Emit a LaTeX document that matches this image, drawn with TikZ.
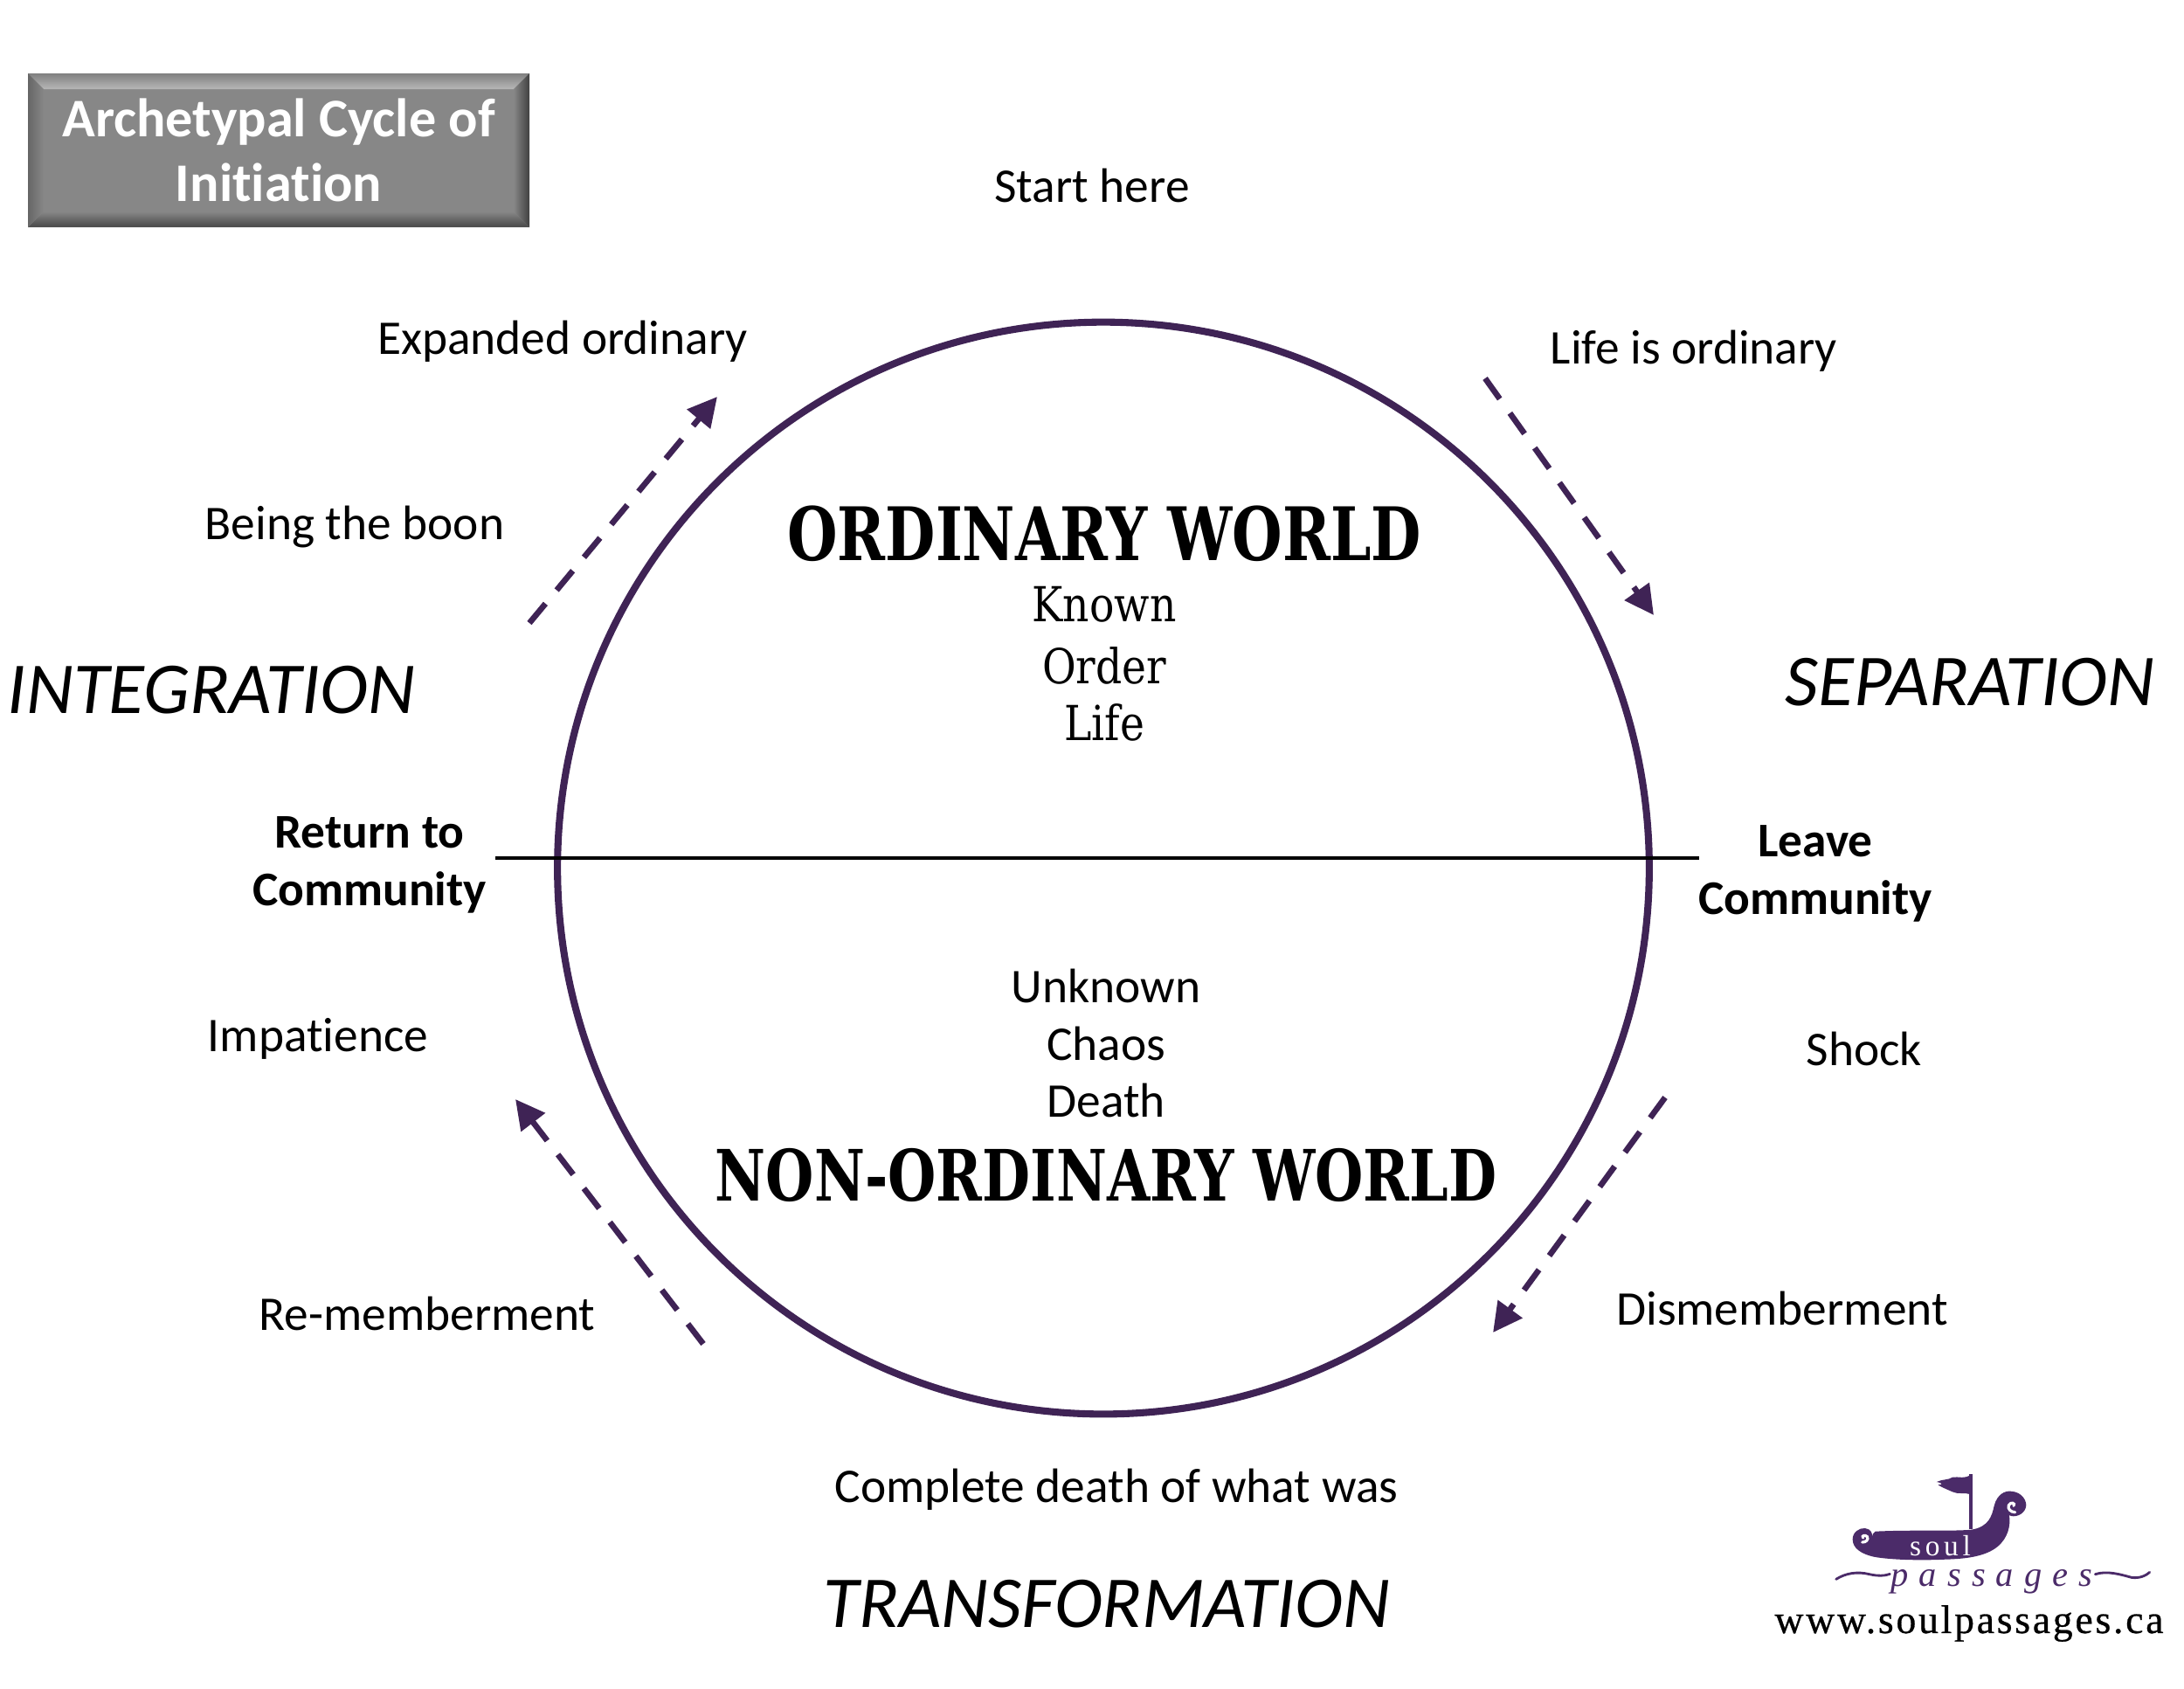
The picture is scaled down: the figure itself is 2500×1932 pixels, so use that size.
\documentclass[tikz,border=0pt]{standalone}
\usepackage{fontspec}
\usetikzlibrary{arrows.meta,calc}
\setmainfont[Ligatures=NoCommon]{Carlito}
\newfontfamily\headfont[FakeStretch=0.87]{DejaVu Serif Condensed}
\newfontfamily\subfont[FakeStretch=0.95]{DejaVu Serif Condensed}
\newfontfamily\urlfont[LetterSpace=6,FakeBold=0.6]{Liberation Serif}
\newfontfamily\soulfont[LetterSpace=14]{Liberation Serif}
\newfontfamily\passfont[LetterSpace=30]{Liberation Serif Italic}
\definecolor{figP}{RGB}{63,35,85}
\definecolor{logoP}{RGB}{75,43,105}
\tikzset{
  lbl/.style={inner sep=0pt,align=center,font=\fontsize{15.75}{20}\selectfont},
  boldlbl/.style={inner sep=0pt,align=center,font=\fontsize{15.75}{18.7}\selectfont\bfseries},
  phase/.style={inner sep=0pt,font=\fontsize{23.8}{30}\selectfont\itshape},
  world/.style={inner sep=0pt,font=\fontsize{24}{28}\selectfont\headfont\bfseries},
  sublbl/.style={inner sep=0pt,font=\fontsize{15.7}{20}\selectfont\subfont},
  flow/.style={line width=1.9pt,figP,dash pattern=on 8.2pt off 5.7pt,-{Triangle[length=9.5pt,width=9.5pt]}},
}
\begin{document}
\begin{tikzpicture}[x=0.01cm,y=-0.01cm]
\useasboundingbox (0,0) rectangle (2500,1932);
% title plate
\coordinate (pa) at (32,84);
\coordinate (pb) at (606,84);
\coordinate (pc) at (606,260);
\coordinate (pd) at (32,260);
\fill[black!47] (pa) rectangle (pc);
\shade[top color=black!50,bottom color=black!28] (pa)--(pb)--(588,102)--(50,102)--cycle;
\shade[left color=black!47,right color=black!75] (pb)--(pc)--(588,242)--(588,102)--cycle;
\shade[top color=black!47,bottom color=black!72] (pd)--(pc)--(588,242)--(50,242)--cycle;
\shade[left color=black!60,right color=black!47] (pa)--(pd)--(50,242)--(50,102)--cycle;
\node[inner sep=0pt,align=center,text=white,font=\fontsize{17.7}{21}\selectfont\bfseries] (title) at (319,172) {Archetypal Cycle of\\Initiation};
% the round
\node[circle,draw=figP,line width=2.3pt,minimum size=12.49cm,inner sep=0pt] (round) at (1263,993.5) {};
\coordinate (lineL) at (567,982);
\coordinate (lineR) at (1945,982);
\draw[line width=0.9pt,black] (lineL)--(lineR);
% labels outside
\node[lbl] (start) at (1250,212) {Start here};
\node[lbl] (expanded) at (644,391) {Expanded ordinary};
\node[lbl] (ordinary) at (1939,402) {Life is ordinary};
\node[lbl] (boon) at (406,603) {Being the boon};
\node[phase] (integration) at (242,790) {INTEGRATION};
\node[phase] (separation) at (2255,781) {SEPARATION};
\node[boldlbl] (return) at (423,990) {Return to\\Community};
\node[boldlbl] (leave) at (2078,1000) {Leave\\Community};
\node[lbl] (impatience) at (364,1189) {Impatience};
\node[lbl] (shock) at (2134,1200) {Shock};
\node[lbl] (remember) at (489,1503) {Re-memberment};
\node[lbl] (dismember) at (2040,1497) {Dismemberment};
\node[lbl] (complete) at (1278,1705) {Complete death of what was};
\node[phase] (transformation) at (1267,1836) {TRANSFORMATION};
% inside the round
\node[world] (oworld) at (1264,611) {ORDINARY WORLD};
\node[sublbl] (known) at (1264,692) {Known};
\node[sublbl] (order) at (1264,762) {Order};
\node[sublbl] (life) at (1264,827) {Life};
\node[lbl] (unknown) at (1266,1128) {Unknown};
\node[lbl] (chaos) at (1266,1194) {Chaos};
\node[lbl] (death) at (1266,1259) {Death};
\node[world,font=\fontsize{23.05}{28}\selectfont\headfont\bfseries] (nworld) at (1266,1345) {NON-ORDINARY WORLD};
% dashed arrows round the circle
\coordinate (a1) at (606,713); \coordinate (a2) at (821,454);
\coordinate (b1) at (1700,433); \coordinate (b2) at (1893,704);
\coordinate (c1) at (1906,1256); \coordinate (c2) at (1709,1525);
\coordinate (d1) at (805,1538); \coordinate (d2) at (590,1258);
\foreach \p in {a,b,c,d} \draw[flow] (\p1)--(\p2);
% boat
\begin{scope}[shift={(2000,1660)},scale=1/3]
\fill[logoP] (440,278) .. controls (560,272) and (700,278) .. (770,272)
  .. controls (830,262) and (840,225) .. (848,190)
  .. controls (858,150) and (885,138) .. (905,140)
  .. controls (945,142) and (962,175) .. (957,195)
  .. controls (950,222) and (915,232) .. (900,222)
  .. controls (905,260) and (895,300) .. (860,330)
  .. controls (820,362) and (760,372) .. (680,374)
  .. controls (600,378) and (500,376) .. (440,366)
  .. controls (390,356) and (362,335) .. (362,305)
  .. controls (362,280) and (385,265) .. (405,267)
  .. controls (425,270) and (432,285) .. (428,298)
  .. controls (430,290) and (432,282) .. (440,278)--cycle;
\draw[white,line width=0.9pt,line cap=round] (398,300) .. controls (392,292) and (405,288) .. (412,296) .. controls (418,305) and (408,316) .. (395,315);
\draw[white,line width=0.9pt,line cap=round] (915,190) .. controls (922,180) and (905,175) .. (898,188) .. controls (893,200) and (905,212) .. (920,212);
\draw[logoP,line width=1pt] (768,82)--(768,270);
\fill[logoP] (770,82) -- (770,152) .. controls (745,142) and (725,152) .. (705,142)
  .. controls (690,135) and (675,130) .. (655,118) .. controls (670,118) and (675,112) .. (650,108)
  .. controls (670,98) and (690,102) .. (705,92) .. controls (725,88) and (745,100) .. (770,82)--cycle;
\node[inner sep=0pt,text=white,font=\fontsize{9.5}{11}\selectfont\soulfont] (soul) at (663,326) {soul};
\node[inner sep=0pt,text=logoP,font=\fontsize{11.5}{13}\selectfont\passfont] (passages) at (840,450) {passages};
\draw[logoP,line width=0.8pt,line cap=round] (305,442) .. controls (340,420) and (380,415) .. (420,425) .. controls (450,432) and (475,430) .. (490,424);
\draw[logoP,line width=0.8pt,line cap=round] (1195,425) .. controls (1235,412) and (1280,425) .. (1320,436) .. controls (1345,440) and (1370,430) .. (1382,418);
\end{scope}
\node[inner sep=0pt,font=\fontsize{13}{15}\selectfont\urlfont] (url) at (2254,1858) {www.soulpassages.ca};
\end{tikzpicture}
\end{document}
